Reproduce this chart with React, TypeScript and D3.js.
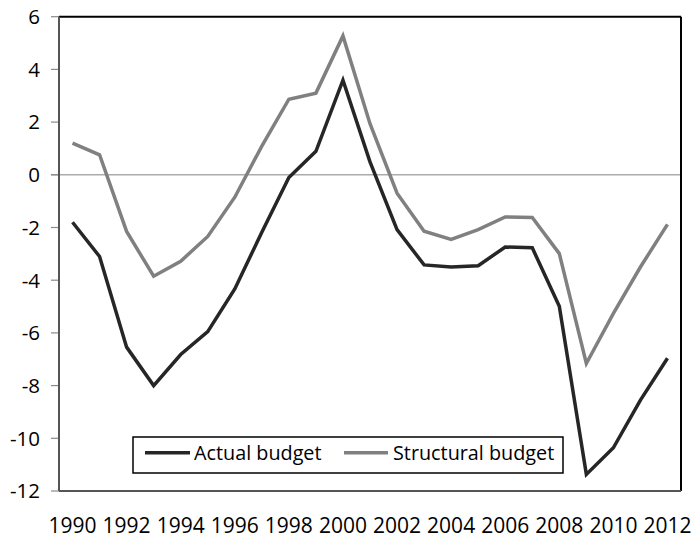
import React from "react";
import * as d3 from "d3";

const years = d3.range(1990, 2013).map(String);
const actualBudget = [-1.80, -3.10, -6.54, -8.00, -6.82, -5.95, -4.33, -2.18, -0.10, 0.89, 3.59, 0.49, -2.08, -3.42, -3.50, -3.45, -2.74, -2.77, -4.99, -11.37, -10.36, -8.55, -6.96];
const structuralBudget = [1.20, 0.76, -2.15, -3.85, -3.28, -2.34, -0.85, 1.09, 2.87, 3.10, 5.27, 1.94, -0.70, -2.14, -2.45, -2.08, -1.60, -1.62, -2.99, -7.16, -5.26, -3.50, -1.88];
const yTicks = [6, 4, 2, 0, -2, -4, -6, -8, -10, -12];
const xTickLabels = years.filter((_, i) => i % 2 === 0);
const seriesNames = ["Actual budget", "Structural budget"];

const W = 692, H = 540;
const L = 59, R = 681, T = 16.7, B = 491;
const FONT = "'Open Sans', sans-serif";

export default function App() {
  const x = d3.scaleBand<string>().domain(years).range([L, R]);
  const cx = (y: string) => (x(y) as number) + x.bandwidth() / 2;
  const y = d3.scaleLinear().domain([-12, 6]).range([B, T]);
  const line = d3.line<number>().x((_, i) => cx(years[i])).y((v) => y(v));
  const colors = ["#262626", "#808080"];
  const data = [actualBudget, structuralBudget];

  return (
    <svg width={W} height={H} style={{ position: "absolute", left: 0, top: 0, background: "#fff" }}>
      {/* zero line */}
      <line x1={L - 8} x2={R} y1={y(0)} y2={y(0)} stroke="#ababab" strokeWidth={1.5} />
      {/* y ticks */}
      {yTicks.map((t) => (
        <g key={t}>
          <line x1={L - 8} x2={L} y1={y(t)} y2={y(t)} stroke="#8a8a8a" strokeWidth={1.2} />
          <text x={40} y={y(t)} dy="0.36em" textAnchor="end" fontFamily={FONT} fontSize={20.5} fill="#000">
            {t}
          </text>
        </g>
      ))}
      {/* frame */}
      <line x1={L} x2={R} y1={T} y2={T} stroke="#000" strokeWidth={2} />
      <line x1={R} x2={R} y1={T} y2={B} stroke="#000" strokeWidth={2} />
      <line x1={L} x2={L} y1={T} y2={B} stroke="#555" strokeWidth={2} />
      <line x1={L} x2={R} y1={B} y2={B} stroke="#555" strokeWidth={2} />
      {/* series */}
      {data.map((d, i) => (
        <path key={i} d={line(d) as string} fill="none" stroke={colors[i]} strokeWidth={3.5} strokeLinejoin="miter" />
      ))}
      {/* x labels */}
      {xTickLabels.map((yr) => (
        <text key={yr} x={cx(yr)} y={533} textAnchor="middle" fontFamily={FONT} fontSize={21} fill="#000">
          {yr}
        </text>
      ))}
      {/* legend */}
      <rect x={133} y={437} width={430} height={36} fill="#fff" stroke="#000" strokeWidth={1.5} />
      {[
        { x0: 145, x1: 190, tx: 194 },
        { x0: 344, x1: 388, tx: 393 },
      ].map((p, i) => (
        <g key={i}>
          <line x1={p.x0} x2={p.x1} y1={452.7} y2={452.7} stroke={colors[i]} strokeWidth={3.5} />
          <text x={p.tx} y={453.5} dy="0.35em" fontFamily={FONT} fontSize={19.8} fill="#000">
            {seriesNames[i]}
          </text>
        </g>
      ))}
    </svg>
  );
}
